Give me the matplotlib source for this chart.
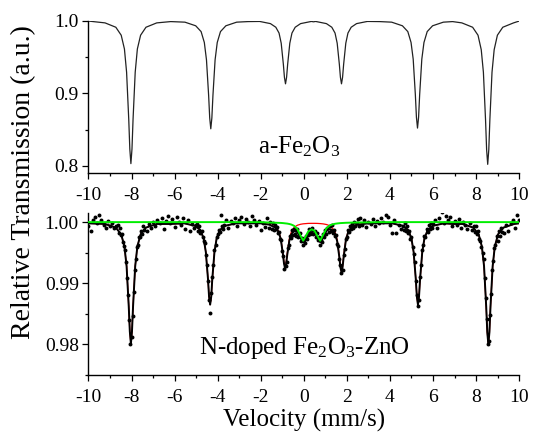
import matplotlib
matplotlib.use('Agg')
import matplotlib.pyplot as plt
from matplotlib.ticker import MultipleLocator, FormatStrFormatter

plt.rcParams['font.family'] = ['Liberation Serif', 'DejaVu Serif']
plt.rcParams['mathtext.fontset'] = 'custom'
plt.rcParams['mathtext.rm'] = 'Liberation Serif'
plt.rcParams['mathtext.it'] = 'Liberation Serif'
plt.rcParams['axes.unicode_minus'] = False

# top panel: a-Fe2O3 spectrum (fitted line)
top_v = [-10.0,
         -9.23, -8.73, -8.48, -8.33, -8.23, -8.13, -8.08, -8.03, -7.98, -7.93, -7.83, -7.73, -7.58, -7.33, -6.83,
         -6.18,
         -5.52, -5.02, -4.77, -4.62, -4.52, -4.42, -4.37, -4.32, -4.27, -4.22, -4.12, -4.02, -3.87, -3.62, -3.12,
         -2.59,
         -2.05, -1.55, -1.30, -1.15, -1.05, -0.95, -0.90, -0.85, -0.80, -0.75, -0.65, -0.55, -0.40, -0.15, 0.35,
         0.45,
         0.55, 1.05, 1.30, 1.45, 1.55, 1.65, 1.70, 1.75, 1.80, 1.85, 1.95, 2.05, 2.20, 2.45, 2.95,
         3.52,
         4.08, 4.58, 4.83, 4.98, 5.08, 5.18, 5.23, 5.28, 5.33, 5.38, 5.48, 5.58, 5.73, 5.98, 6.48,
         6.91,
         7.34, 7.84, 8.09, 8.24, 8.34, 8.44, 8.49, 8.54, 8.59, 8.64, 8.74, 8.84, 8.99, 9.24, 9.74,
         10.0]
top_t = [0.9995,
         0.997, 0.991, 0.980, 0.961, 0.929, 0.864, 0.823, 0.803, 0.823, 0.864, 0.929, 0.961, 0.980, 0.991, 0.997,
         0.9988,
         0.998, 0.993, 0.985, 0.970, 0.946, 0.897, 0.866, 0.851, 0.866, 0.897, 0.946, 0.970, 0.985, 0.993, 0.998,
         0.9988,
         0.999, 0.996, 0.991, 0.983, 0.969, 0.940, 0.922, 0.913, 0.922, 0.940, 0.969, 0.983, 0.991, 0.996, 0.999,
         0.9985,
         0.999, 0.996, 0.991, 0.983, 0.969, 0.940, 0.922, 0.913, 0.922, 0.940, 0.969, 0.983, 0.991, 0.996, 0.999,
         0.9988,
         0.998, 0.993, 0.985, 0.970, 0.947, 0.898, 0.867, 0.852, 0.867, 0.898, 0.947, 0.970, 0.985, 0.993, 0.998,
         0.9988,
         0.997, 0.991, 0.980, 0.960, 0.929, 0.863, 0.822, 0.802, 0.822, 0.863, 0.929, 0.960, 0.980, 0.991, 0.997,
         0.9995]

# bottom panel: measured points
pts_v = [-10.0, -9.9, -9.8, -9.7, -9.6, -9.5, -9.4, -9.3, -9.2, -9.1, -9.0, -8.9, -8.8, -8.7,
         -8.65, -8.60, -8.55, -8.50, -8.45, -8.40, -8.35, -8.30, -8.25, -8.20, -8.15, -8.10, -8.05,
         -8.00, -7.95, -7.90, -7.85, -7.80, -7.75, -7.70, -7.65, -7.60, -7.55, -7.50, -7.45, -7.40,
         -7.3, -7.2, -7.1, -7.0, -6.9, -6.8, -6.7, -6.6, -6.5, -6.4, -6.3, -6.2, -6.1, -6.0,
         -5.9, -5.8, -5.7, -5.6, -5.5, -5.4, -5.3, -5.2, -5.1, -5.0,
         -4.95, -4.90, -4.85, -4.80, -4.75, -4.70, -4.65, -4.60, -4.55, -4.50, -4.45, -4.40, -4.35,
         -4.30, -4.25, -4.20, -4.15, -4.10, -4.05, -4.00, -3.95, -3.90, -3.85, -3.80, -3.75,
         -3.7, -3.6, -3.5, -3.4, -3.3, -3.2, -3.1, -3.0, -2.9, -2.8, -2.7, -2.6, -2.5, -2.4,
         -2.3, -2.2, -2.1, -2.0, -1.9, -1.8, -1.7, -1.6,
         -1.55, -1.50, -1.45, -1.40, -1.35, -1.30, -1.25, -1.20, -1.15, -1.10, -1.05, -1.00,
         -0.95, -0.90, -0.85, -0.80, -0.75, -0.70, -0.65, -0.60, -0.55, -0.50, -0.45, -0.40,
         -0.35, -0.30, -0.25, -0.20, -0.15, -0.10, -0.05, 0.00, 0.05, 0.10, 0.15, 0.20,
         0.25, 0.30, 0.35, 0.40, 0.45, 0.50, 0.55, 0.60, 0.65, 0.70, 0.75, 0.80,
         0.85, 0.90, 0.95, 1.00, 1.05, 1.10, 1.15, 1.20, 1.25, 1.30, 1.35, 1.40,
         1.45, 1.50, 1.55, 1.60, 1.65, 1.70, 1.75, 1.80, 1.85, 1.90, 1.95, 2.00,
         2.05, 2.10, 2.15, 2.20, 2.25, 2.30, 2.35, 2.40, 2.45, 2.50, 2.55,
         2.6, 2.7, 2.8, 2.9, 3.0, 3.1, 3.2, 3.3, 3.4, 3.5, 3.6, 3.7, 3.8, 3.9, 4.0,
         4.1, 4.2, 4.3, 4.4, 4.5, 4.6,
         4.65, 4.70, 4.75, 4.80, 4.85, 4.90, 4.95, 5.00, 5.05, 5.10, 5.15, 5.20, 5.25, 5.30,
         5.35, 5.40, 5.45, 5.50, 5.55, 5.60, 5.65, 5.70, 5.75, 5.80, 5.85, 5.90, 5.95,
         6.0, 6.1, 6.2, 6.3, 6.4, 6.5, 6.6, 6.7, 6.8, 6.9, 7.0, 7.1, 7.2, 7.3, 7.4, 7.5,
         7.6, 7.7, 7.8, 7.9,
         7.95, 8.00, 8.05, 8.10, 8.15, 8.20, 8.25, 8.30, 8.35, 8.40, 8.45, 8.50, 8.55,
         8.60, 8.65, 8.70, 8.75, 8.80, 8.85, 8.90, 8.95, 9.00, 9.05, 9.10, 9.15, 9.20,
         9.3, 9.4, 9.5, 9.6, 9.7, 9.8, 9.9, 10.0]
pts_t = [0.9994, 0.9986, 1.0003, 1.0008, 0.9999, 1.0011, 1.0004, 0.9996, 0.9991, 1.0002, 0.9993, 0.9998, 0.9990, 0.9993,
         0.9996, 0.9983, 0.9990, 0.9979, 0.9981, 0.9968, 0.9961, 0.9955, 0.9934, 0.9908, 0.9880, 0.9840, 0.9800,
         0.9812, 0.9847, 0.9885, 0.9921, 0.9939, 0.9959, 0.9962, 0.9976, 0.9975, 0.9986, 0.9981, 0.9993, 0.9987,
         0.9986, 0.9997, 0.9990, 1.0001, 0.9993, 1.0004, 0.9998, 1.0006, 0.9989, 1.0002, 1.0010, 0.9999, 1.0005, 0.9992,
         1.0009, 1.0001, 0.9996, 1.0007, 0.9988, 1.0003, 0.9985, 0.9997, 0.9990, 0.9995,
         0.9997, 0.9986, 0.9993, 0.9983, 0.9986, 0.9976, 0.9969, 0.9966, 0.9947, 0.9930, 0.9903, 0.9872, 0.9851,
         0.9884, 0.9911, 0.9930, 0.9955, 0.9962, 0.9976, 0.9980, 0.9987, 0.9984, 1.0011, 0.9993, 0.9989,
         0.9996, 1.0004, 0.9991, 1.0002, 0.9998, 1.0006, 0.9994, 1.0003, 1.0009, 0.9997, 1.0005, 1.0001, 0.9993, 1.0010,
         1.0004, 0.9996, 1.0002, 0.9987, 0.9999, 0.9992, 1.0006, 0.9990,
         1.0001, 0.9989, 0.9998, 0.9987, 0.9995, 0.9988, 0.9992, 0.9983, 0.9984, 0.9973, 0.9971, 0.9953,
         0.9944, 0.9924, 0.9929, 0.9934, 0.9957, 0.9962, 0.9978, 0.9974, 0.9987, 0.9979, 0.9988, 0.9981,
         0.9978, 0.9989, 0.9976, 0.9982, 0.9969, 0.9974, 0.9962, 0.9970, 0.9966, 0.9978, 0.9973, 0.9979,
         0.9988, 0.9981, 0.9983, 0.9990, 0.9980, 0.9986, 0.9976, 0.9983, 0.9970, 0.9975, 0.9963, 0.9971,
         0.9968, 0.9980, 0.9976, 0.9987, 0.9981, 0.9991, 0.9984, 0.9993, 0.9986, 0.9996, 0.9983, 0.9987,
         0.9978, 0.9979, 0.9965, 0.9961, 0.9940, 0.9930, 0.9916, 0.9922, 0.9946, 0.9956, 0.9973, 0.9976,
         0.9987, 0.9984, 0.9993, 0.9988, 0.9997, 0.9991, 1.0001, 0.9994, 0.9999, 1.0005, 0.9993,
         1.0007, 0.9996, 1.0003, 0.9992, 1.0001, 0.9997, 1.0005, 0.9994, 1.0002, 0.9998, 1.0006, 1.0001, 1.0012, 1.0008, 0.9995,
         0.9982, 1.0003, 0.9983, 0.9996, 0.9988, 0.9993,
         0.9987, 0.9998, 0.9985, 0.9993, 0.9982, 0.9986, 0.9972, 0.9975, 0.9960, 0.9948, 0.9934, 0.9904, 0.9880, 0.9862,
         0.9873, 0.9910, 0.9930, 0.9955, 0.9962, 0.9978, 0.9976, 0.9988, 0.9984, 0.9995, 0.9988, 0.9999, 0.9990,
         0.9997, 1.0004, 0.9990, 1.0006, 1.0016, 0.9999, 1.0010, 1.0003, 1.0009, 0.9994, 1.0002, 0.9996, 1.0005, 0.9991, 1.0001, 0.9995,
         0.9988, 0.9999, 0.9987, 0.9993,
         0.9984, 0.9993, 0.9980, 0.9985, 0.9973, 0.9969, 0.9960, 0.9949, 0.9940, 0.9909, 0.9876, 0.9842, 0.9800,
         0.9806, 0.9848, 0.9882, 0.9921, 0.9936, 0.9958, 0.9962, 0.9977, 0.9969, 0.9985, 0.9978, 0.9991, 0.9984,
         0.9982, 0.9995, 0.9986, 0.9998, 1.0004, 0.9991, 1.0012, 1.0003]

# bottom panel: fit (total), sextet (red) and doublet (green)
fit_v = [-10.0,
         -9.23, -8.73, -8.48, -8.33, -8.23, -8.13, -8.08, -8.03, -7.98, -7.93, -7.83, -7.73, -7.58, -7.33, -6.83,
         -6.19,
         -5.55, -5.05, -4.80, -4.65, -4.55, -4.45, -4.40, -4.35, -4.30, -4.25, -4.15, -4.05, -3.90, -3.65, -3.15,
         -2.0, -1.6, -1.3, -1.17, -1.07, -0.97, -0.92, -0.87, -0.82, -0.77, -0.67, -0.57, -0.45, -0.30,
         -0.15, -0.03, 0.1, 0.2, 0.365, 0.5, 0.63, 0.76, 0.9, 1.05, 1.2, 1.3, 1.45, 1.55, 1.65, 1.70,
         1.75, 1.80, 1.85, 1.95, 2.05, 2.2, 2.45, 2.95,
         3.5,
         4.10, 4.60, 4.85, 5.00, 5.10, 5.20, 5.25, 5.30, 5.35, 5.40, 5.50, 5.60, 5.75, 6.00, 6.50,
         6.93,
         7.37, 7.87, 8.12, 8.27, 8.37, 8.47, 8.52, 8.57, 8.62, 8.67, 8.77, 8.87, 9.02, 9.27, 9.77,
         10.0]
fit_total = [0.9998,
             0.9997, 0.9991, 0.9980, 0.9960, 0.9928, 0.9862, 0.9821, 0.9801, 0.9821, 0.9862, 0.9928, 0.9960, 0.9980, 0.9991, 0.9997,
             0.9997,
             0.9998, 0.9994, 0.9987, 0.9973, 0.9951, 0.9907, 0.9878, 0.9865, 0.9878, 0.9907, 0.9951, 0.9973, 0.9987, 0.9994, 0.9998,
             0.9998, 0.99958, 0.99906, 0.99838, 0.99721, 0.99476, 0.99322, 0.99242, 0.99313, 0.99463, 0.99701, 0.99809, 0.99853, 0.99837,
             0.99741, 0.99668, 0.9975, 0.99823, 0.99863, 0.99837, 0.99753, 0.99672, 0.99765, 0.99859, 0.99886, 0.99876, 0.99811, 0.99688, 0.99426, 0.99262,
             0.99178, 0.99261, 0.99428, 0.99696, 0.99826, 0.99906, 0.99955, 0.99978,
             0.9998,
             0.9998, 0.9994, 0.9987, 0.9973, 0.9951, 0.9907, 0.9878, 0.9865, 0.9878, 0.9907, 0.9951, 0.9973, 0.9987, 0.9994, 0.9998,
             0.9997,
             0.9997, 0.9991, 0.9980, 0.9960, 0.9928, 0.9862, 0.9820, 0.9800, 0.9820, 0.9862, 0.9928, 0.9960, 0.9980, 0.9991, 0.9997,
             0.9998]
fit_sextet = [0.9998,
              0.9997, 0.9991, 0.9980, 0.9960, 0.9928, 0.9862, 0.9821, 0.9801, 0.9821, 0.9862, 0.9928, 0.9960, 0.9980, 0.9991, 0.9997,
              0.9997,
              0.9998, 0.9994, 0.9987, 0.9973, 0.9951, 0.9907, 0.9878, 0.9865, 0.9878, 0.9907, 0.9951, 0.9973, 0.9987, 0.9994, 0.9998,
              0.9998, 0.99965, 0.99916, 0.9985, 0.99734, 0.99492, 0.9934, 0.99262, 0.99335, 0.99487, 0.99732, 0.9985, 0.99914, 0.99949,
              0.99965, 0.99972, 0.99976, 0.99979, 0.9998, 0.9998, 0.99979, 0.99976, 0.99971, 0.99961, 0.99942, 0.99917, 0.99838, 0.9971, 0.99444, 0.99278,
              0.99193, 0.99275, 0.99441, 0.99707, 0.99836, 0.99914, 0.99961, 0.99982,
              0.9998,
              0.9998, 0.9994, 0.9987, 0.9973, 0.9951, 0.9907, 0.9878, 0.9865, 0.9878, 0.9907, 0.9951, 0.9973, 0.9987, 0.9994, 0.9998,
              0.9997,
              0.9997, 0.9991, 0.9980, 0.9960, 0.9928, 0.9862, 0.9820, 0.9800, 0.9820, 0.9862, 0.9928, 0.9960, 0.9980, 0.9991, 0.9997,
              0.9998]
fit_doublet = [1.0,
               1.0, 1.0, 1.0, 1.0, 1.0, 1.0, 1.0, 1.0, 1.0, 1.0, 1.0, 1.0, 1.0, 1.0, 1.0,
               1.0,
               1.0, 1.0, 1.0, 1.0, 1.0, 1.0, 1.0, 1.0, 1.0, 1.0, 1.0, 1.0, 1.0, 1.0, 1.0,
               1.0, 0.99993, 0.9999, 0.99988, 0.99987, 0.99984, 0.99982, 0.9998, 0.99978, 0.99976, 0.99969, 0.99959, 0.99939, 0.99888,
               0.99776, 0.99696, 0.99774, 0.99844, 0.99883, 0.99857, 0.99774, 0.99696, 0.99794, 0.99898, 0.99944, 0.99959, 0.99973, 0.99978, 0.99982, 0.99984,
               0.99985, 0.99986, 0.99987, 0.99989, 0.9999, 0.99992, 0.99994, 0.99996,
               1.0,
               1.0, 1.0, 1.0, 1.0, 1.0, 1.0, 1.0, 1.0, 1.0, 1.0, 1.0, 1.0, 1.0, 1.0, 1.0,
               1.0,
               1.0, 1.0, 1.0, 1.0, 1.0, 1.0, 1.0, 1.0, 1.0, 1.0, 1.0, 1.0, 1.0, 1.0, 1.0,
               1.0]

fig = plt.figure(figsize=(5.33, 4.37), dpi=100)
ax1 = fig.add_axes([0.166, 0.604, 0.808, 0.3486])
ax2 = fig.add_axes([0.166, 0.142, 0.808, 0.3707])

ax1.plot(top_v, top_t, color='#222222', lw=0.9)
ax1.set_ylim(0.79, 1.0)
ax1.yaxis.set_major_locator(MultipleLocator(0.1))
ax1.yaxis.set_minor_locator(MultipleLocator(0.05))
ax1.yaxis.set_major_formatter(FormatStrFormatter('%.1f'))
ax1.text(-0.22, 0.8175, r'a-Fe$_\mathregular{2}$O$_\mathregular{3}$', fontsize=18,
         ha='center', va='baseline')

ax2.plot(fit_v, fit_sextet, color='#ff0000', lw=0.9, zorder=2)
ax2.plot(fit_v, fit_total, color='black', lw=1.4, zorder=3)
ax2.scatter(pts_v, pts_t, s=8, color='black', zorder=4, linewidths=0)
ax2.plot(fit_v, fit_doublet, color='#00ee00', lw=1.4, zorder=5)
ax2.set_ylim(0.975, 1.0015)
ax2.yaxis.set_major_locator(MultipleLocator(0.01))
ax2.yaxis.set_minor_locator(MultipleLocator(0.005))
ax2.yaxis.set_major_formatter(FormatStrFormatter('%.2f'))
ax2.text(0.05, 0.97835, r'N-doped Fe$_\mathregular{2}$O$_\mathregular{3}$-ZnO', fontsize=18,
         ha='center', va='baseline')

for ax in (ax1, ax2):
    ax.set_xlim(-10, 10)
    ax.xaxis.set_major_locator(MultipleLocator(2))
    ax.xaxis.set_minor_locator(MultipleLocator(1))
    ax.spines['top'].set_visible(False)
    ax.spines['right'].set_visible(False)
    ax.spines['left'].set_linewidth(1.0)
    ax.spines['bottom'].set_linewidth(1.0)
    ax.tick_params(which='major', direction='out', length=4, width=0.9, labelsize=14)
    ax.tick_params(which='minor', direction='out', length=2.5, width=0.9)
    ax.tick_params(axis='x', which='major', pad=6)
    ax.tick_params(axis='y', which='major', pad=3)

fig.text(24 / 533, 0.583, 'Relative Transmission (a.u.)', rotation=90,
         ha='center', va='center', fontsize=20)
fig.text(304 / 533, 1 - 420 / 437, 'Velocity (mm/s)', ha='center', va='center', fontsize=18)

fig.savefig('out.png', dpi=100)
